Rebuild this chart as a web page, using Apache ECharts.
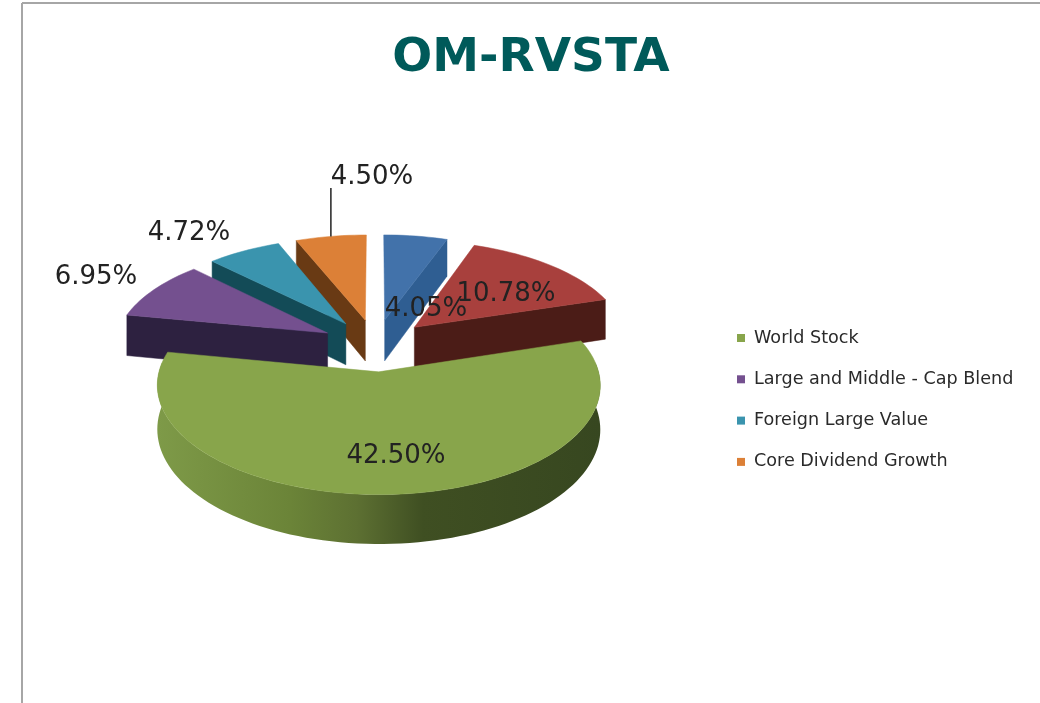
<!DOCTYPE html>
<html><head><meta charset="utf-8">
<style>html,body{margin:0;padding:0;background:#fff}#c{width:1040px;height:703px}</style>
<script src="https://cdn.jsdelivr.net/npm/echarts@6/dist/echarts.min.js"></script>
</head><body><div id="c"></div>
<script>
const titleText = 'OM-RVSTA';
const categories = ['Short Term Bond', 'Intermediate Bond', 'World Stock', 'Large and Middle - Cap Blend', 'Foreign Large Value', 'Core Dividend Growth'];
const values = [4.05, 10.78, 42.50, 6.95, 4.72, 4.50];
const legendNames = ['World Stock', 'Large and Middle - Cap Blend', 'Foreign Large Value', 'Core Dividend Growth'];

const topColors = ['#4272aa', '#a8403d', '#88a54b', '#74508f', '#3a94ae', '#dc8037'];
const cutColors = ['#2f5e92', '#4b1c17', '#3c4c20', '#2d2140', '#134b57', '#693a14'];

// projection of the tilted pie
const CX = 375.5, CY = 345, AX = 213, BY = 101, PERSP = 0.12, EXPLODE = 0.258, DEPTH = 42;
// label anchors: [centre x, centre y]
const labelAt = [[426, 309], [506, 294], [396, 456], [96, 277], [189, 233], [372, 177]];
const leaderSlice = 5, leaderTopY = 188;
const labelFont = '26px "DejaVu Sans"';

const total = values.reduce((a, b) => a + b, 0);
const rad = d => d * Math.PI / 180;
const starts = [];
values.reduce((acc, v, i) => { starts[i] = acc; return acc + v / total * 360; }, 0);

function project(X, Y, drop) {
  const w = 1 + PERSP * Y;
  return [CX + AX * X / w, CY - BY * Y / w + (drop ? DEPTH / w : 0)];
}
function slicePoint(i, angle, r, drop) {
  const a0 = starts[i], a1 = a0 + values[i] / total * 360, m = rad((a0 + a1) / 2);
  const X = r * Math.sin(rad(angle)) + EXPLODE * Math.sin(m);
  const Y = r * Math.cos(rad(angle)) + EXPLODE * Math.cos(m);
  return project(X, Y, drop);
}
function arcAngles(a, b) {
  const out = [];
  const n = Math.max(2, Math.ceil((b - a) / 2));
  for (let k = 0; k <= n; k++) out.push(a + (b - a) * k / n);
  return out;
}
function poly(points, fill, z2) {
  return { type: 'polygon', z2: z2 || 0, shape: { points },
    style: { fill, stroke: fill, lineWidth: 0.5 } };
}
function cutFace(i, angle) {
  return poly([slicePoint(i, angle, 0, false), slicePoint(i, angle, 1, false),
               slicePoint(i, angle, 1, true), slicePoint(i, angle, 0, true)], cutColors[i]);
}
function renderSlice(params, api) {
  const i = categories.indexOf(params.seriesName);
  const sweep = api.value(0) / total * 360;
  const a0 = starts[i], a1 = a0 + sweep;
  const kids = [];
  if (Math.sin(rad(a0)) < -1e-6) kids.push(cutFace(i, a0));
  if (Math.sin(rad(a1)) > 1e-6) kids.push(cutFace(i, a1));
  const r0 = Math.max(a0, 85), r1 = Math.min(a1, 275);
  if (r1 > r0) {
    const top = arcAngles(r0, r1).map(a => slicePoint(i, a, 1, false));
    const bot = arcAngles(r0, r1).map(a => slicePoint(i, a, 1, true)).reverse();
    const xs = top.map(p => p[0]);
    const x0 = Math.min(...xs), x1 = Math.max(...xs);
    kids.push({ type: 'polygon', shape: { points: top.concat(bot) },
      style: { fill: new echarts.graphic.LinearGradient(x1, 0, x0, 0, [
        { offset: 0, color: '#374720' }, { offset: 0.40, color: '#3f4f22' },
        { offset: 0.55, color: '#5d7032' }, { offset: 0.70, color: '#6b8438' },
        { offset: 1, color: '#7e9a48' }], true) } });
  }
  const face = [slicePoint(i, a0, 0, false)].concat(arcAngles(a0, a1).map(a => slicePoint(i, a, 1, false)));
  kids.push(poly(face, topColors[i], 1));
  const t = labelAt[i];
  kids.push({ type: 'text', z2: 100, x: t[0], y: t[1],
    style: { text: api.value(0).toFixed(2) + '%', fill: '#222', font: labelFont, align: 'center', verticalAlign: 'middle' } });
  if (i === leaderSlice) {
    const p = slicePoint(i, (a0 + a1) / 2, 1, false);
    kids.push({ type: 'line', z2: 100, shape: { x1: p[0], y1: p[1], x2: p[0], y2: leaderTopY },
      style: { stroke: '#222', lineWidth: 1.5 } });
  }
  return { type: 'group', children: kids };
}
// paint back to front
const order = values.map((v, i) => i).sort((p, q) => {
  const m = i => Math.cos(rad(starts[i] + values[i] / total * 180));
  return m(q) - m(p);
});
const chart = echarts.init(document.getElementById('c'), null, { renderer: 'canvas' });
chart.setOption({
  animation: false,
  backgroundColor: '#fff',
  title: { text: titleText, left: 526, top: 30, textAlign: 'center',
    textStyle: { color: '#005a5a', fontSize: 47, fontWeight: 'bold', fontFamily: '"DejaVu Sans"' } },
  legend: { data: legendNames, orient: 'vertical', left: 732, top: 322, itemWidth: 8, itemHeight: 8,
    itemGap: 19.3, icon: 'rect', selectedMode: false,
    textStyle: { fontFamily: '"DejaVu Sans"', fontSize: 17.6, color: '#2a2a2a', padding: [0, 0, 0, 4], height: 22, lineHeight: 22 } },
  graphic: [
    { type: 'line', shape: { x1: 22, y1: 3, x2: 1040, y2: 3 }, style: { stroke: '#a6a6a6', lineWidth: 2 } },
    { type: 'line', shape: { x1: 22, y1: 3, x2: 22, y2: 703 }, style: { stroke: '#a6a6a6', lineWidth: 2 } }
  ],
  series: order.map(i => ({
    type: 'custom', name: categories[i], coordinateSystem: 'none', silent: true,
    itemStyle: { color: topColors[i] },
    data: [[values[i]]], renderItem: renderSlice
  }))
});
</script></body></html>
